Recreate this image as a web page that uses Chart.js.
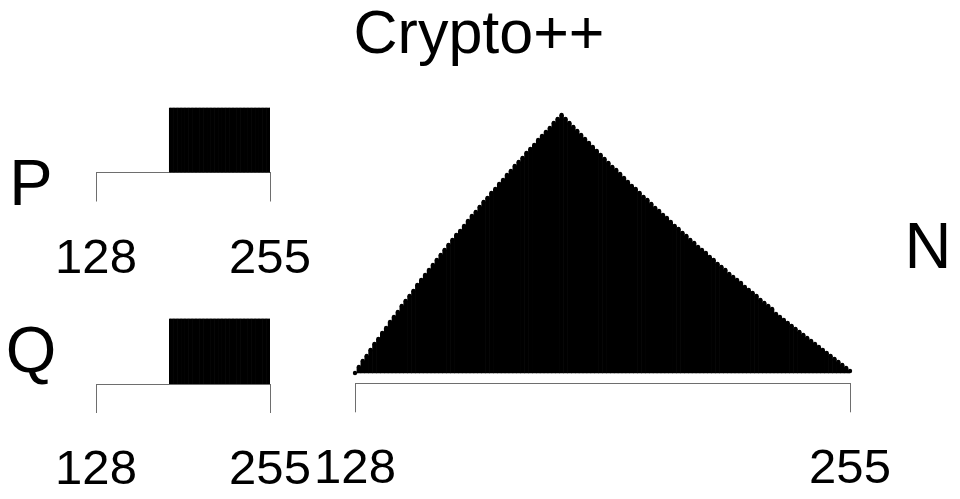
<!DOCTYPE html>
<html>
<head>
<meta charset="utf-8">
<script src="https://cdn.jsdelivr.net/npm/chart.js@4.4.1/dist/chart.umd.min.js"></script>
<style>
  html, body { margin: 0; padding: 0; background: #fff; }
  #wrap { position: relative; width: 960px; height: 499px; overflow: hidden; }
  #wrap canvas { position: absolute; left: 0; top: 0; }
</style>
</head>
<body>
<div id="wrap">
  <canvas id="pChart" width="960" height="560"></canvas>
  <canvas id="qChart" width="960" height="560"></canvas>
  <canvas id="nChart" width="960" height="560"></canvas>
</div>
<script>
// leading byte values 128..255
const nBins = [];
for (let b = 128; b <= 255; b++) nBins.push(b);
const pqBins = nBins.slice(54); // 182..255

const tickValues = [128, 255];

// P and Q: flat from 182 up to 255
const pCounts = [
  1000, 1000, 1000, 1000, 1000, 1000, 1000, 1000, 1000, 1000,
  1000, 1000, 1000, 1000, 1000, 1000, 1000, 1000, 1000, 1000,
  1000, 1000, 1000, 1000, 1000, 1000, 1000, 1000, 1000, 1000,
  1000, 1000, 1000, 1000, 1000, 1000, 1000, 1000, 1000, 1000,
  1000, 1000, 1000, 1000, 1000, 1000, 1000, 1000, 1000, 1000,
  1000, 1000, 1000, 1000, 1000, 1000, 1000, 1000, 1000, 1000,
  1000, 1000, 1000, 1000, 1000, 1000, 1000, 1000, 1000, 1000,
  1000, 1000, 1000, 1000
];
const qCounts = [
  1000, 1000, 1000, 1000, 1000, 1000, 1000, 1000, 1000, 1000,
  1000, 1000, 1000, 1000, 1000, 1000, 1000, 1000, 1000, 1000,
  1000, 1000, 1000, 1000, 1000, 1000, 1000, 1000, 1000, 1000,
  1000, 1000, 1000, 1000, 1000, 1000, 1000, 1000, 1000, 1000,
  1000, 1000, 1000, 1000, 1000, 1000, 1000, 1000, 1000, 1000,
  1000, 1000, 1000, 1000, 1000, 1000, 1000, 1000, 1000, 1000,
  1000, 1000, 1000, 1000, 1000, 1000, 1000, 1000, 1000, 1000,
  1000, 1000, 1000, 1000
];

// N: rises to a peak near 181 then falls off to 255
const nCounts = [
    0,   6,  12,  17,  23,  29,  34,  40,  45,  51,
   56,  61,  67,  72,  77,  82,  88,  93,  98, 103,
  108, 113, 118, 123, 128, 133, 138, 142, 147, 152,
  157, 161, 166, 171, 175, 180, 184, 189, 193, 198,
  202, 207, 211, 215, 220, 224, 228, 233, 237, 241,
  245, 250, 254, 258,
  254, 250, 246, 242, 238, 234, 230, 226, 222, 218,
  214, 210, 206, 203, 199, 195, 191, 187, 184, 180,
  176, 173, 169, 165, 162, 158, 155, 151, 147, 144,
  140, 137, 133, 130, 126, 123, 120, 116, 113, 109,
  106, 103,  99,  96,  93,  90,  86,  83,  80,  77,
   73,  70,  67,  64,  59,  56,  53,  50,  47,  44,
   41,  38,  35,  32,  29,  26,  23,  20,  17,  14,
   11,   8,   5,   2
];

const FONT = '"Liberation Sans", Arial, sans-serif';
const axisColor = '#6e6e6e';

function makeHist(id, bins, counts, yMin, yMax, pad, dots, extraPlugins) {
    const datasets = [{
        type: 'bar',
        data: counts,
        backgroundColor: '#000',
        borderWidth: 0,
        barPercentage: 1,
        categoryPercentage: 1,
        order: 2
    }];
    if (dots) {
        datasets.push({
            type: 'line',
            data: counts,
            showLine: false,
            pointRadius: 2.2,
            pointBackgroundColor: '#000',
            pointBorderWidth: 0,
            clip: false,
            order: 1
        });
    }
    return new Chart(document.getElementById(id), {
        type: 'bar',
        data: { labels: bins, datasets: datasets },
        options: {
            responsive: false,
            animation: false,
            events: [],
            layout: { padding: pad },
            plugins: { legend: { display: false }, tooltip: { enabled: false } },
            scales: {
                x: {
                    type: 'linear',
                    min: 128,
                    max: 255,
                    offset: false,
                    afterBuildTicks: s => { s.ticks = tickValues.map(v => ({ value: v })); },
                    grid: {
                        offset: false,
                        drawOnChartArea: false,
                        drawTicks: true,
                        tickLength: 29,
                        color: axisColor,
                        lineWidth: 1
                    },
                    border: { display: true, color: axisColor, width: 1 },
                    ticks: {
                        color: '#000',
                        font: { family: FONT, size: 49, lineHeight: 1 },
                        padding: 33,
                        maxRotation: 0,
                        autoSkip: false
                    }
                },
                y: { display: false, min: yMin, max: yMax }
            }
        },
        plugins: extraPlugins || []
    });
}

const textPlugin = {
    id: 'texts',
    afterDraw(chart) {
        const ctx = chart.ctx;
        ctx.save();
        ctx.fillStyle = '#000';
        ctx.textAlign = 'center';
        ctx.textBaseline = 'alphabetic';
        ctx.font = '61px ' + FONT;
        ctx.fillText('Crypto++', 479, 53);
        ctx.font = '65px ' + FONT;
        ctx.fillText('P', 31, 205);
        ctx.fillText('Q', 31, 372);
        ctx.fillText('N', 928, 268);
        ctx.restore();
    }
};

makeHist('pChart', pqBins, pCounts, 0, 2364, { left: 96, right: 690, top: 20, bottom: 243.5 }, false);
makeHist('qChart', pqBins, qCounts, 0, 2354, { left: 96, right: 690, top: 231, bottom: 32 }, false);
makeHist('nChart', nBins, nCounts, -10.3, 268.3, { left: 355, right: 110, top: 104.7, bottom: 32.7 }, true, [textPlugin]);
</script>
</body>
</html>
